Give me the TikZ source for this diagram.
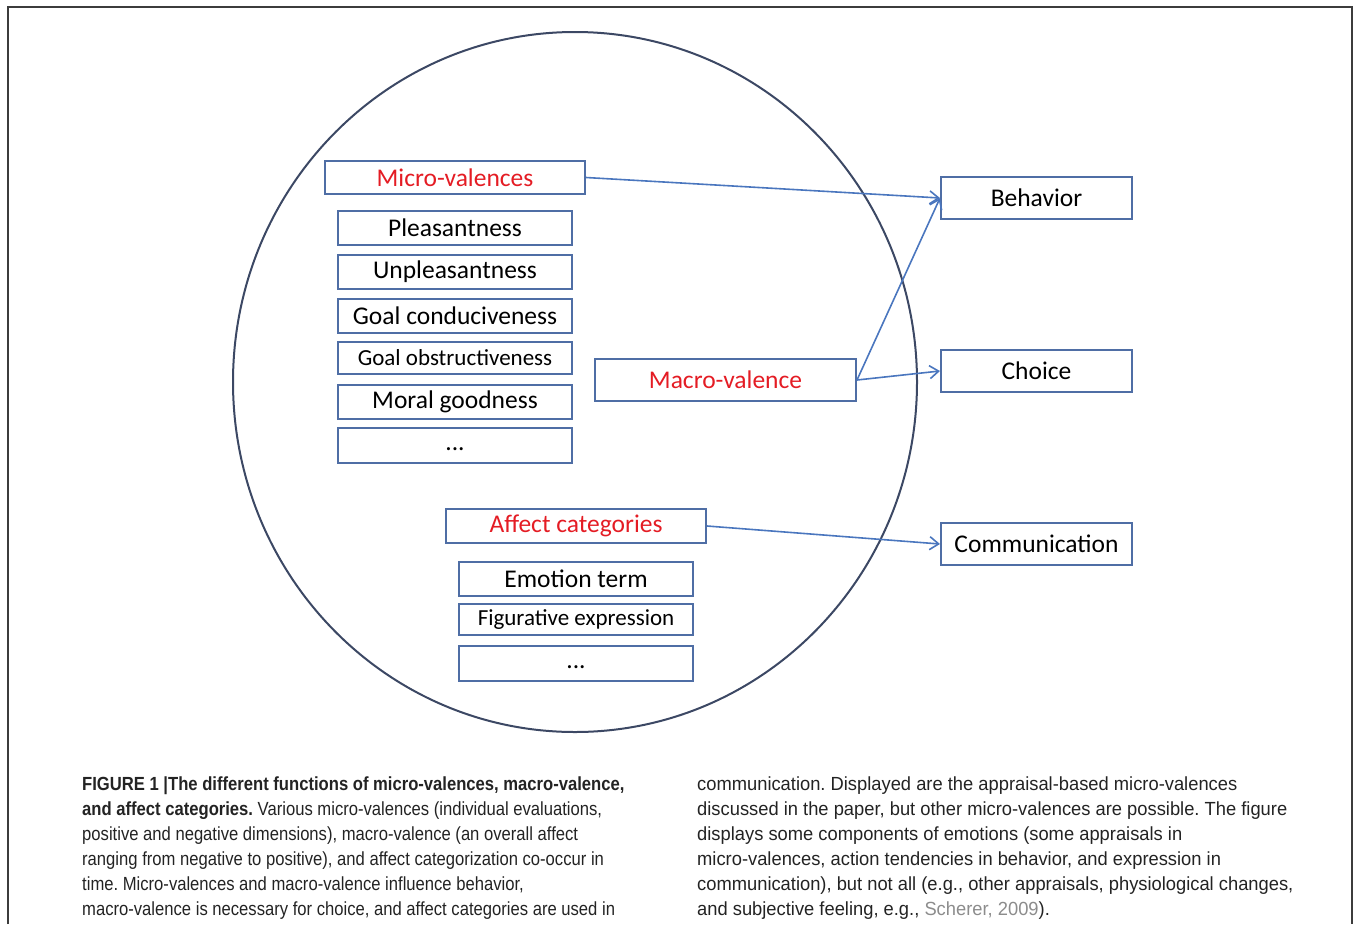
\documentclass[tikz,border=0pt]{standalone}
\usepackage{fontspec}
\setmainfont{Liberation Sans}
\newfontfamily\boxfont{Carlito}
\newfontfamily\capfont[FakeStretch=0.875]{Liberation Sans}
\newfontfamily\capfontR[FakeStretch=0.965]{Liberation Sans}
\usetikzlibrary{arrows.meta}
\definecolor{boxblue}{RGB}{79,110,165}
\definecolor{arrblue}{RGB}{74,118,190}
\definecolor{circgray}{RGB}{60,72,100}
\definecolor{labred}{RGB}{228,28,36}
\definecolor{framegray}{RGB}{60,60,60}
\definecolor{refgray}{RGB}{140,140,140}
\definecolor{captext}{RGB}{35,35,35}
\frenchspacing
\begin{document}
\begin{tikzpicture}[x=1pt,y=-1pt,
  box/.style={draw=boxblue, line width=2pt, rectangle, inner sep=0pt, text=black,
    font=\boxfont\fontsize{25.5}{30}\selectfont},
  smallbox/.style={box, font=\boxfont\fontsize{23}{28}\selectfont},
  headbox/.style={box, text=labred},
  conn/.style={draw=arrblue, line width=1.6pt, -{Straight Barb[length=9pt,width=13pt,line width=1.6pt]}},
  capline/.style={anchor=base west, inner sep=0pt, text=captext,
    font=\capfont\fontsize{19}{25}\selectfont},
  caplineR/.style={capline, font=\capfontR\fontsize{19}{25}\selectfont}]
\useasboundingbox (0,0) rectangle (1356,924);
% frame
\draw[framegray, line width=1.5pt] (8,924) -- (8,7) -- (1352,7) -- (1352,924);
% big circle
\draw[circgray, line width=2pt] (575,382) ellipse [x radius=342pt, y radius=350pt];

% micro-valences column
\node[headbox, minimum width=260pt, minimum height=33pt] (micro) at (455,177.5) {Micro-valences};
\node[box, minimum width=234pt, minimum height=34pt] (pleas) at (455,228) {Pleasantness};
\node[box, minimum width=234pt, minimum height=34pt] (unpleas) at (455,272) {Unpleasantness};
\node[box, minimum width=234pt, minimum height=34pt] (goalc) at (455,316) {Goal conduciveness};
\node[smallbox, minimum width=234pt, minimum height=32pt] (goalo) at (455,358) {Goal obstructiveness};
\node[box, minimum width=234pt, minimum height=34pt] (moral) at (455,402) {Moral goodness};
\node[box, minimum width=234pt, minimum height=35pt] (dotsA) at (455,445.5) {\smash{\raisebox{-4.5pt}{...}}};

% macro-valence
\node[headbox, minimum width=261pt, minimum height=42pt] (macro) at (725.5,380) {Macro-valence};

% affect categories column
\node[headbox, minimum width=260pt, minimum height=34pt] (affect) at (576,526) {Affect categories};
\node[box, minimum width=234pt, minimum height=34pt] (emot) at (576,579) {Emotion term};
\node[smallbox, minimum width=234pt, minimum height=31pt] (figur) at (576,619.5) {Figurative expression};
\node[box, minimum width=234pt, minimum height=35pt] (dotsB) at (576,663.5) {\smash{\raisebox{-4.5pt}{...}}};

% outputs
\node[box, minimum width=191pt, minimum height=42pt] (behav) at (1036.5,198) {Behavior};
\node[box, minimum width=191pt, minimum height=42pt] (choice) at (1036.5,371) {Choice};
\node[box, minimum width=191pt, minimum height=42pt] (comm) at (1036.5,544) {Communication};

% connectors
\draw[conn] (micro.east) -- (behav.west);
\draw[conn] (macro.east) -- (behav.west);
\draw[conn] (macro.east) -- (choice.west);
\draw[conn] (affect.east) -- (comm.west);

% caption, left column
\node[capline] (cl1) at (82,790) {\bfseries FIGURE 1 |The different functions of micro-valences, macro-valence,};
\node[capline] (cl2) at (82,815) {{\bfseries and affect categories.} Various micro-valences (individual evaluations,};
\node[capline] (cl3) at (82,840) {positive and negative dimensions), macro-valence (an overall affect};
\node[capline] (cl4) at (82,865) {ranging from negative to positive), and affect categorization co-occur in};
\node[capline] (cl5) at (82,890) {time. Micro-valences and macro-valence influence behavior,};
\node[capline] (cl6) at (82,915) {macro-valence is necessary for choice, and affect categories are used in};
% caption, right column
\node[caplineR] (cr1) at (697,790) {communication. Displayed are the appraisal-based micro-valences};
\node[caplineR] (cr2) at (697,815) {discussed in the paper, but other micro-valences are possible. The figure};
\node[caplineR] (cr3) at (697,840) {displays some components of emotions (some appraisals in};
\node[caplineR] (cr4) at (697,865) {micro-valences, action tendencies in behavior, and expression in};
\node[caplineR] (cr5) at (697,890) {communication), but not all (e.g., other appraisals, physiological changes,};
\node[caplineR] (cr6) at (697,915) {and subjective feeling, e.g., {\color{refgray}Scherer, 2009}).};
\end{tikzpicture}
\end{document}
